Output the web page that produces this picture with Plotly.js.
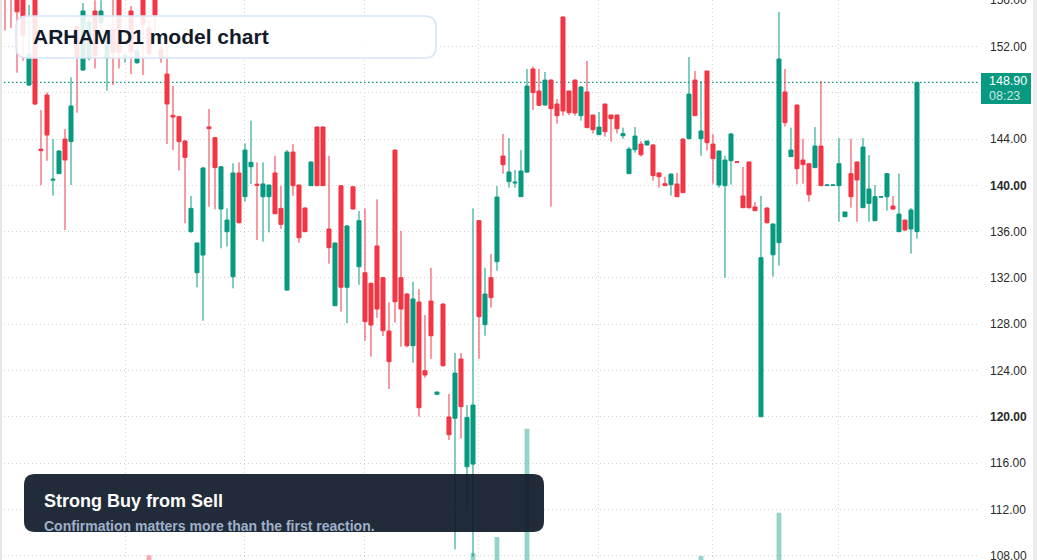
<!DOCTYPE html>
<html>
<head>
<meta charset="utf-8">
<script src="https://cdn.plot.ly/plotly-3.0.1.min.js"></script>
<style>
  html, body { margin: 0; padding: 0; background: #ffffff; }
  #chart { width: 1037px; height: 560px; }
</style>
</head>
<body>
<div id="chart"></div>
<script>
// ---- Data ----
const chartTitle = "ARHAM D1 model chart";
const noteTitle = "Strong Buy from Sell";
const noteText = "Confirmation matters more than the first reaction.";
const lastPrice = 148.90;
const lastPriceText = "148.90";
const countdownText = "08:23";

const opens = [157.0,156.8,156.5,156.3,148.67,156.2,143.13,147.81,140.45,141.01,
144.0,143.78,153.7,149.97,151.0,155.07,154.06,151.0,153.5,156.3,
151.1,155.07,150.6,156.3,153.6,156.3,151.75,149.62,146.05,145.94,
143.83,136.0,132.45,133.98,145.05,144.12,137.96,135.99,132.1,141.07,
139.02,141.61,140.1,139.02,139.02,141.07,138.01,130.95,142.88,140.03,
138.04,139.97,145.04,145.04,136.23,129.6,139.97,131.19,139.88,132.97,
132.45,131.53,134.76,132.02,127.41,143.05,132.02,130.61,126.14,129.92,
123.98,130.0,121.94,129.74,119.98,119.87,124.99,115.68,115.91,136.95,
127.96,132.02,133.4,142.54,140.32,140.2,139.02,141.15,150.06,148.15,
146.94,149.1,147.03,154.55,148.15,149.1,146.02,148.07,146.08,144.38,
147.03,146.08,146.08,144.29,141.01,143.08,143.57,143.49,143.49,141.07,
140.14,140.06,140.12,144.0,144.03,149.1,144.03,149.88,143.57,140.03,
139.97,142.13,142.05,139.08,142.02,138.13,120.0,138.04,134.0,135.05,
148.07,142.48,146.94,142.19,141.87,141.53,143.4,140.0,140.0,139.97,
137.29,141.01,142.02,138.07,138.44,136.95,138.98,139.02,138.21,136.0,
137.0,136.23,136.0];

const highs = [157.5,157.0,157.0,156.5,155.59,156.5,146.51,148.04,144.0,143.05,
144.87,149.34,154.0,155.76,154.5,156.0,156.0,153.5,156.1,156.5,
151.5,155.5,152.0,156.5,154.2,156.5,152.9,152.0,148.58,146.0,
143.9,139.08,135.05,141.61,146.6,144.2,141.65,138.01,141.9,141.99,
143.63,145.59,141.99,141.99,140.05,142.56,139.94,143.05,143.57,140.05,
138.1,142.05,145.1,145.1,142.56,135.05,140.0,136.57,139.9,137.78,
138.01,131.6,138.79,132.1,129.89,143.1,136.05,130.7,131.67,131.04,
128.79,132.88,122.16,129.8,121.97,125.51,125.51,121.01,138.01,137.0,
132.88,134.06,139.94,144.44,144.09,141.33,143.05,150.06,150.26,150.06,
149.8,149.15,147.46,154.6,148.2,149.15,148.59,150.75,146.1,146.34,
147.05,146.1,146.1,144.99,143.31,145.04,143.83,143.85,143.57,141.1,
140.75,141.0,141.07,144.05,151.09,149.88,149.02,149.9,144.44,143.0,
142.56,144.52,142.1,141.59,142.05,138.56,139.08,138.1,136.7,154.98,
150.06,144.99,147.0,144.03,141.9,145.04,149.02,140.05,140.05,144.09,
137.72,144.03,142.05,144.09,142.62,140.03,139.05,141.05,139.08,141.01,
137.05,138.04,148.92];

const lows = [153.37,153.6,149.74,150.78,148.6,146.94,140.03,142.13,139.11,141.0,
136.14,140.03,146.28,149.9,150.8,150.11,153.7,148.18,148.67,150.11,
150.6,149.6,150.5,149.54,151.0,153.0,150.6,143.57,143.05,141.27,
136.72,135.9,131.19,128.3,138.15,137.93,134.56,134.7,131.1,136.7,
138.59,140.12,135.28,135.13,135.94,137.5,136.25,130.9,139.1,135.04,
135.95,139.95,139.95,139.95,133.23,129.55,129.08,128.08,137.9,131.4,
126.57,125.19,128.56,126.98,122.4,128.14,126.05,126.0,124.67,120.0,
123.37,125.0,121.92,124.35,117.99,108.54,118.1,111.94,107.9,125.0,
127.0,129.43,132.62,141.01,139.8,139.8,139.0,141.07,146.51,146.86,
146.9,138.16,145.33,146.02,146.08,146.02,145.59,144.95,144.47,144.35,
144.21,143.77,144.47,144.03,141.0,142.82,142.48,143.43,140.4,139.8,
139.95,139.11,139.0,139.35,144.0,146.0,142.56,143.0,140.14,139.8,
132.02,140.06,141.95,138.05,138.0,137.8,120.0,136.7,132.11,133.06,
145.07,142.45,140.09,140.14,138.59,141.5,139.95,139.98,139.98,136.86,
137.27,138.07,136.86,138.05,136.86,136.9,138.95,137.81,137.9,135.95,
136.08,134.1,135.39];

const closes = [156.3,156.2,155.0,152.99,151.35,147.03,143.0,144.35,140.53,142.97,
142.19,146.86,151.1,155.07,154.1,151.2,155.07,153.1,151.5,151.5,
151.2,151.55,151.64,153.94,151.4,154.7,151.0,147.03,145.9,143.78,
142.42,138.01,135.02,141.5,144.9,141.53,141.61,137.0,141.07,136.77,
143.05,141.99,140.0,140.12,140.03,137.55,136.63,142.88,139.97,135.47,
136.0,142.02,139.97,139.97,134.61,135.02,131.19,136.49,137.96,136.95,
128.22,127.93,129.31,127.44,124.76,129.94,129.31,126.14,130.18,120.78,
123.61,127.0,122.14,124.41,118.45,123.78,120.87,119.93,121.01,128.65,
130.61,130.29,138.99,141.79,141.15,140.27,141.24,148.59,148.01,146.92,
149.1,146.63,146.02,146.43,146.28,146.25,148.5,144.99,144.81,145.04,
144.64,145.76,144.9,144.47,143.14,144.26,142.65,143.83,140.84,140.75,
139.97,140.98,139.02,139.37,147.89,146.02,144.7,143.69,142.31,142.97,
142.19,144.44,142.0,138.07,138.07,137.81,133.75,136.77,136.66,150.92,
145.42,143.05,141.44,141.79,139.19,143.4,139.97,140.03,140.03,141.87,
137.7,139.02,140.46,143.31,139.68,139.02,139.02,141.01,137.95,137.52,
136.14,137.87,148.9];

// volume in millions (only the spikes reach into view)
const volumes = [0.62,0.55,0.71,0.66,0.58,0.84,0.47,0.52,0.41,0.36,
0.63,0.69,0.57,0.74,0.49,0.61,0.45,0.52,0.58,0.66,
0.31,0.54,0.38,0.72,1.075,0.64,0.35,0.68,0.56,0.51,
0.62,0.48,0.57,0.88,0.43,0.52,0.61,0.39,0.79,0.66,
0.58,0.44,0.37,0.42,0.35,0.53,0.41,0.86,0.55,0.49,
0.38,0.42,0.71,0.69,0.58,0.62,0.74,0.66,0.33,0.57,
0.72,0.61,0.68,0.55,0.63,0.91,0.59,0.48,0.52,0.89,
0.44,0.51,0.29,0.64,0.47,0.93,0.71,0.82,1.11,0.87,
0.53,0.46,1.37,0.62,0.49,0.36,0.58,3.11,0.72,0.54,
0.61,0.75,0.43,0.92,0.47,0.56,0.51,0.64,0.42,0.38,
0.49,0.37,0.41,0.27,0.52,0.46,0.39,0.26,0.55,0.34,
0.31,0.37,0.41,0.63,0.85,0.58,1.064,0.77,0.49,0.56,
0.68,0.53,0.24,0.46,0.59,0.28,0.94,0.39,0.57,1.76,
0.71,0.44,0.66,0.41,0.52,0.48,0.73,0.22,0.21,0.58,
0.26,0.54,0.49,0.62,0.47,0.43,0.23,0.51,0.32,0.55,
0.34,0.48,0.90];

const priceTicks = [108,112,116,120,124,128,132,136,140,144,148,152,156];
const boldTicks = [120,140];
const hiddenTicks = [148];
const periodBreaks = [20,40,60,79,99,118,139,162.1];

// ---- Styling ----
const UP = '#089981', DOWN = '#f23645';
const FONT = 'Liberation Sans, Arial, Helvetica, sans-serif';
const W = 1037, H = 560, PLOT_W = 978;

const bars = opens.map((o, i) => i);
const volColors = opens.map((o, i) => closes[i] >= o ? 'rgba(8,153,129,0.43)' : 'rgba(242,54,69,0.43)');
const tickText = priceTicks.map(v => hiddenTicks.includes(v) ? '' :
  (boldTicks.includes(v) ? '<b>' + v.toFixed(2) + '</b>' : v.toFixed(2)));

// pixel -> paper helpers (plot area spans x 0..978, y 0..560)
const px = x => x / PLOT_W;
const py = y => 1 - y / H;
function roundRect(x0, y0, x1, y1, r) {
  const p = (x, y) => px(x) + ',' + py(y);
  return 'M' + p(x0 + r, y0) + ' L' + p(x1 - r, y0) + ' Q' + p(x1, y0) + ' ' + p(x1, y0 + r) +
    ' L' + p(x1, y1 - r) + ' Q' + p(x1, y1) + ' ' + p(x1 - r, y1) +
    ' L' + p(x0 + r, y1) + ' Q' + p(x0, y1) + ' ' + p(x0, y1 - r) +
    ' L' + p(x0, y0 + r) + ' Q' + p(x0, y0) + ' ' + p(x0 + r, y0) + ' Z';
}

const traces = [
  {
    type: 'bar', x: bars, y: volumes, yaxis: 'y2', width: 0.8,
    marker: { color: volColors, line: { width: 0 } }, hoverinfo: 'skip', showlegend: false
  },
  {
    type: 'candlestick', x: bars, open: opens, high: highs, low: lows, close: closes,
    increasing: { line: { color: UP, width: 1 }, fillcolor: UP },
    decreasing: { line: { color: DOWN, width: 1 }, fillcolor: DOWN },
    whiskerwidth: 0, hoverinfo: 'skip', showlegend: false
  }
];

const layout = {
  width: W, height: H,
  margin: { l: 0, r: W - PLOT_W, t: 0, b: 0, pad: 0 },
  paper_bgcolor: '#ffffff', plot_bgcolor: '#ffffff',
  showlegend: false, dragmode: false,
  boxgap: 0.33, boxgroupgap: 0,
  font: { family: FONT, size: 12, color: '#2f2f2f' },
  xaxis: {
    type: 'linear', range: [-5 / 6, 162.17], rangeslider: { visible: false },
    tickmode: 'array', tickvals: periodBreaks, showticklabels: false, ticks: '',
    showgrid: true, gridcolor: '#d3d3d3', griddash: '1px,3px', gridwidth: 1,
    zeroline: false, showline: false, fixedrange: true
  },
  yaxis: {
    side: 'right', range: [107.62, 156.02],
    tickmode: 'array', tickvals: priceTicks, ticktext: tickText,
    ticks: '', ticklabelstandoff: 11, ticklabeloverflow: 'allow',
    tickfont: { family: FONT, size: 12, color: '#2a2a2a' },
    showgrid: true, gridcolor: '#d3d3d3', griddash: '1px,3px', gridwidth: 1,
    zeroline: false, showline: false, fixedrange: true
  },
  yaxis2: {
    overlaying: 'y', side: 'right', range: [1.0, 10.0], visible: false,
    showgrid: false, zeroline: false, fixedrange: true
  },
  shapes: [
    // last price line
    { type: 'line', xref: 'paper', yref: 'y', x0: 0, x1: 1, y0: lastPrice, y1: lastPrice,
      line: { color: UP, width: 1.2, dash: '1.5px,2.5px' }, layer: 'below' },
    // left / right frame strips
    { type: 'rect', xref: 'paper', yref: 'paper', x0: 0, x1: px(2), y0: 0, y1: 1,
      fillcolor: '#e6e6e6', line: { width: 0 }, layer: 'above' },
    { type: 'rect', xref: 'paper', yref: 'paper', x0: px(1033), x1: px(1037), y0: 0, y1: 1,
      fillcolor: '#ececec', line: { width: 0 }, layer: 'above' },
    // title card
    { type: 'path', xref: 'paper', yref: 'paper', path: roundRect(16, 16, 436, 58, 11),
      fillcolor: 'rgba(255,255,255,0.87)', line: { color: '#d9e5f8', width: 1.6 }, layer: 'above' },
    // note card
    { type: 'path', xref: 'paper', yref: 'paper', path: roundRect(24, 474, 544, 532, 11),
      fillcolor: 'rgba(15,25,40,0.92)', line: { width: 0 }, layer: 'above' },
    // price tag
    { type: 'rect', xref: 'paper', yref: 'paper', x0: px(981), x1: px(1031), y0: py(104), y1: py(73),
      fillcolor: UP, line: { width: 0 }, layer: 'above' }
  ],
  annotations: [
    { xref: 'paper', yref: 'paper', x: px(31), y: py(37), xanchor: 'left', yanchor: 'middle',
      showarrow: false, text: '<b>' + chartTitle + '</b>', font: { family: FONT, size: 21, color: '#131b2b' } },
    { xref: 'paper', yref: 'paper', x: px(42), y: py(501), xanchor: 'left', yanchor: 'middle',
      showarrow: false, text: '<b>' + noteTitle + '</b>', font: { family: FONT, size: 18, color: '#ffffff' } },
    { xref: 'paper', yref: 'paper', x: px(42), y: py(526), xanchor: 'left', yanchor: 'middle',
      showarrow: false, text: '<b>' + noteText + '</b>', font: { family: FONT, size: 14, color: '#9fb0c9' } },
    { xref: 'paper', yref: 'paper', x: px(987), y: py(81), xanchor: 'left', yanchor: 'middle',
      showarrow: false, text: lastPriceText, font: { family: FONT, size: 12.5, color: '#ffffff' } },
    { xref: 'paper', yref: 'paper', x: px(987), y: py(96), xanchor: 'left', yanchor: 'middle',
      showarrow: false, text: countdownText, font: { family: FONT, size: 12.5, color: 'rgba(255,255,255,0.78)' } }
  ]
};

Plotly.newPlot('chart', traces, layout, { displayModeBar: false, staticPlot: true, responsive: false });
</script>
</body>
</html>
